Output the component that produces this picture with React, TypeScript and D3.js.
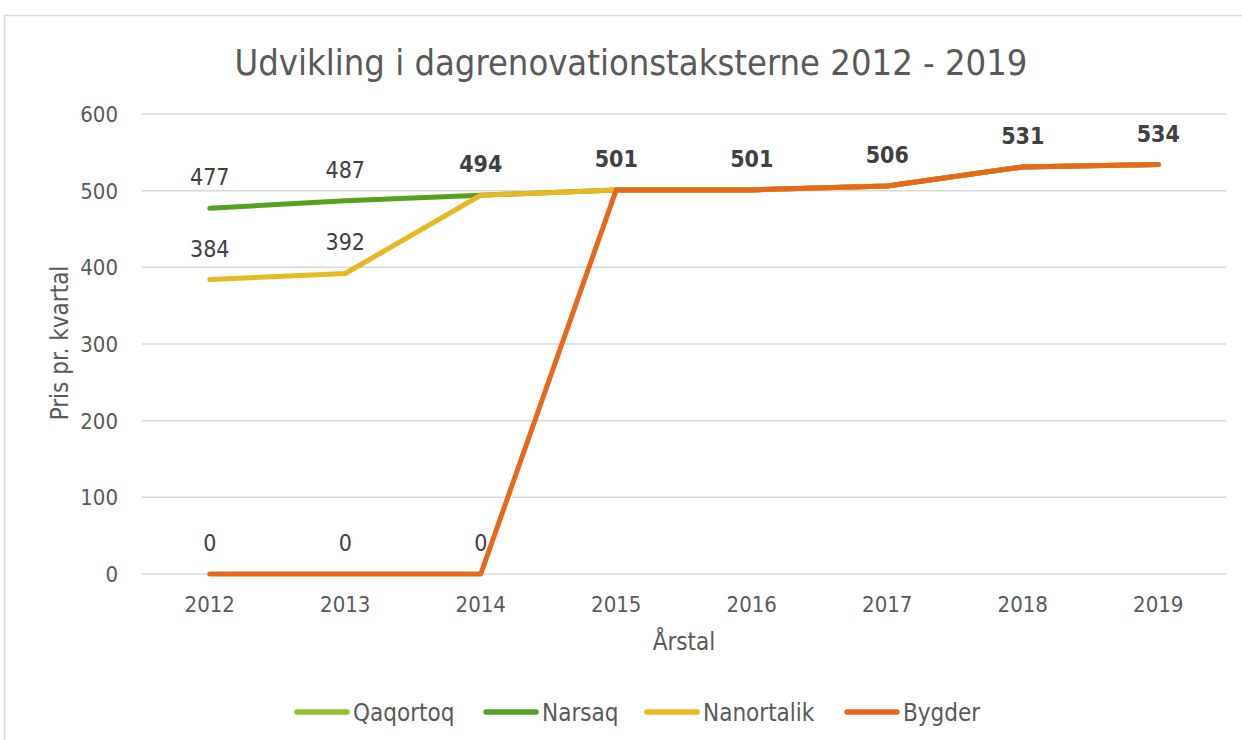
import React, { useEffect, useRef } from 'react';
import * as d3 from 'd3';

const years = ['2012', '2013', '2014', '2015', '2016', '2017', '2018', '2019'];
const qaqortoq = [null, null, null, 501, 501, 506, 531, 534];
const narsaq = [477, 487, 494, 501, 501, 506, 531, 534];
const nanortalik = [384, 392, 494, 501, 501, 506, 531, 534];
const bygder = [0, 0, 0, 501, 501, 506, 531, 534];
const yTicks = [0, 100, 200, 300, 400, 500, 600];

const seriesNames = ['Qaqortoq', 'Narsaq', 'Nanortalik', 'Bygder'];
const seriesColors = ['#92c12b', '#56a021', '#e6b822', '#e8681a'];

const FONT = "'DejaVu Sans Condensed', 'Liberation Sans Narrow', 'DejaVu Sans', sans-serif";

export default function App() {
  const ref = useRef<SVGSVGElement>(null);

  useEffect(() => {
    const width = 1242, height = 740;
    const svg = d3.select(ref.current).attr('width', width).attr('height', height);
    svg.selectAll('*').remove();

    const all = [qaqortoq, narsaq, nanortalik, bygder];

    // chart frame
    svg.append('rect')
      .attr('x', 4.5).attr('y', 15.5).attr('width', 1250).attr('height', 740)
      .attr('fill', '#fff').attr('stroke', '#d9d9d9').attr('stroke-width', 1.5);

    const x = d3.scaleBand().domain(years).range([142, 1226]);
    const y = d3.scaleLinear().domain([0, 600]).range([574, 114]);
    const cx = (d: string) => (x(d) as number) + x.bandwidth() / 2;

    svg.append('text')
      .attr('x', 631).attr('y', 75)
      .attr('text-anchor', 'middle')
      .attr('font-family', FONT).attr('font-size', 36)
      .attr('fill', '#595959')
      .text('Udvikling i dagrenovationstaksterne 2012 - 2019');

    // gridlines
    svg.append('g').selectAll('line').data(yTicks).join('line')
      .attr('x1', 142).attr('x2', 1226)
      .attr('y1', (d) => y(d)).attr('y2', (d) => y(d))
      .attr('stroke', '#d9d9d9').attr('stroke-width', 1.5);

    svg.append('g').selectAll('text').data(yTicks).join('text')
      .attr('x', 118).attr('y', (d) => y(d) + 8)
      .attr('text-anchor', 'end')
      .attr('font-family', FONT).attr('font-size', 22)
      .attr('fill', '#595959')
      .text((d) => d);

    svg.append('g').selectAll('text').data(years).join('text')
      .attr('x', (d) => cx(d)).attr('y', 612)
      .attr('text-anchor', 'middle')
      .attr('font-family', FONT).attr('font-size', 22)
      .attr('fill', '#595959')
      .text((d) => d);

    svg.append('text')
      .attr('x', 684).attr('y', 650)
      .attr('text-anchor', 'middle')
      .attr('font-family', FONT).attr('font-size', 24)
      .attr('fill', '#595959')
      .text('Årstal');

    svg.append('text')
      .attr('transform', 'translate(68,343) rotate(-90)')
      .attr('text-anchor', 'middle')
      .attr('font-family', FONT).attr('font-size', 24)
      .attr('fill', '#595959')
      .text('Pris pr. kvartal');

    const line = d3.line<number | null>()
      .defined((d) => d !== null)
      .x((_, i) => cx(years[i]))
      .y((d) => y(d as number));

    all.forEach((s, k) => {
      svg.append('path')
        .datum(s)
        .attr('fill', 'none')
        .attr('stroke', seriesColors[k])
        .attr('stroke-width', 5)
        .attr('stroke-linecap', 'round')
        .attr('stroke-linejoin', 'round')
        .attr('d', line);
    });

    // data labels, overlapping labels look heavier
    const counts = new Map<string, number>();
    all.forEach((s) => s.forEach((v, i) => {
      if (v === null) return;
      const key = `${i}-${v}`;
      counts.set(key, (counts.get(key) || 0) + 1);
    }));
    const labels = Array.from(counts.entries()).map(([key, c]) => {
      const [i, v] = key.split('-').map(Number);
      return { i, v, c };
    });
    svg.append('g').selectAll('text').data(labels).join('text')
      .attr('x', (d) => cx(years[d.i])).attr('y', (d) => y(d.v) - 23)
      .attr('text-anchor', 'middle')
      .attr('font-family', FONT).attr('font-size', 23)
      .attr('font-weight', (d) => (d.c > 1 ? 'bold' : 'normal'))
      .attr('fill', '#404040')
      .text((d) => d.v);

    // legend
    const legendX = [297, 486, 647, 847];
    const lg = svg.append('g').selectAll('g').data(seriesNames).join('g')
      .attr('transform', (_, i) => `translate(${legendX[i]},712)`);
    lg.append('line')
      .attr('x1', 0).attr('x2', 50).attr('y1', 0).attr('y2', 0)
      .attr('stroke', (_, i) => seriesColors[i])
      .attr('stroke-width', 5.5).attr('stroke-linecap', 'round');
    lg.append('text')
      .attr('x', 56).attr('y', 9)
      .attr('font-family', FONT).attr('font-size', 24)
      .attr('fill', '#595959')
      .text((d) => d);
  }, []);

  return <svg ref={ref} style={{ position: 'absolute', left: 0, top: 0 }}></svg>;
}
